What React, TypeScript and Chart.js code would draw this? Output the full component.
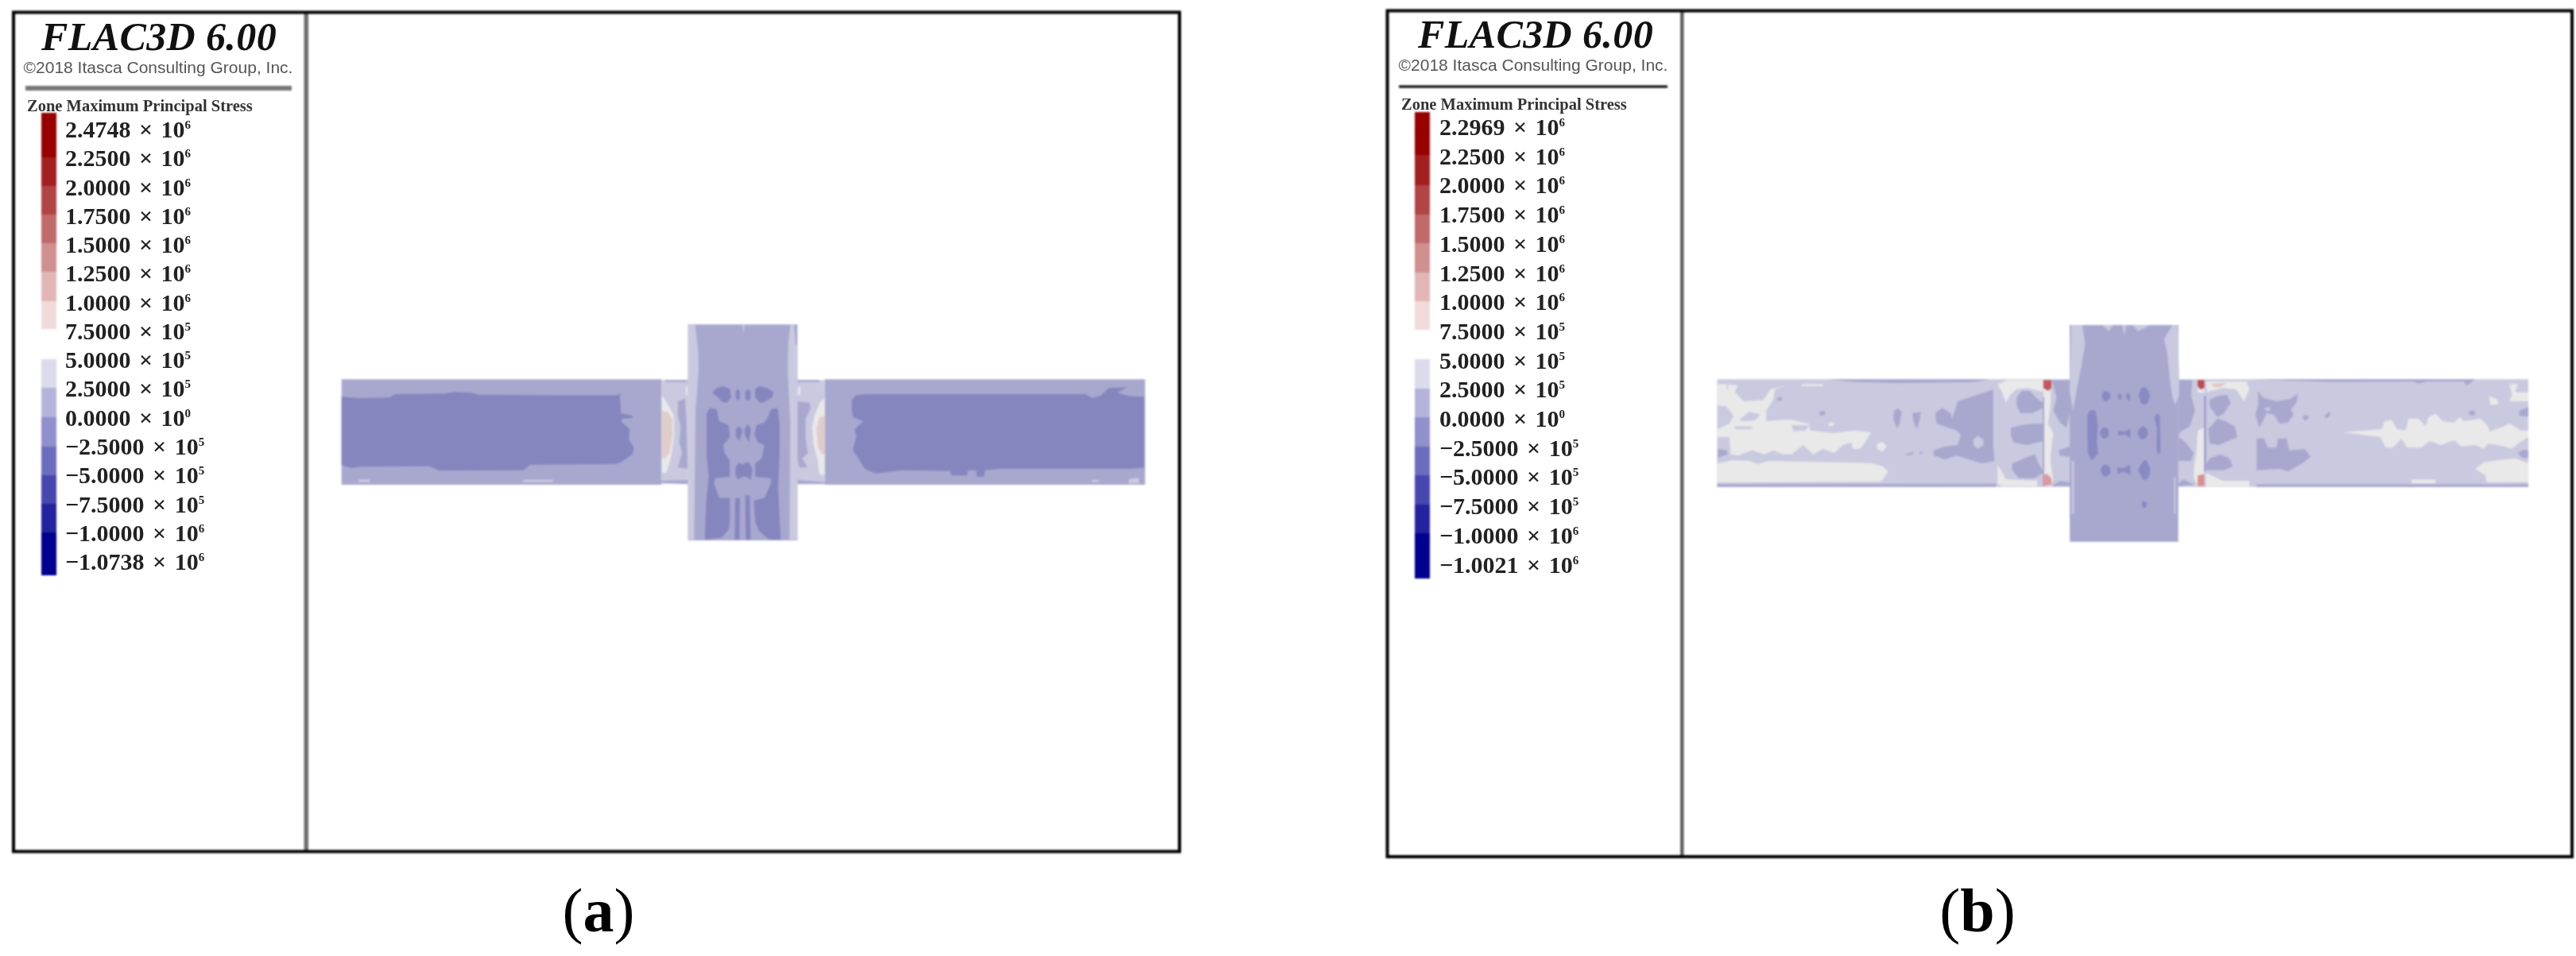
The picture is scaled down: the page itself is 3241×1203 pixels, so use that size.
import React, { useEffect, useRef } from "react";
import { Chart, registerables } from "chart.js";

Chart.register(...registerables);

// ---------- text ----------
const TITLE = "FLAC3D 6.00";
const COPYRIGHT = "©2018 Itasca Consulting Group, Inc.";
const QUANTITY = "Zone Maximum Principal Stress";
const captions = ["a", "b"];
const mantissaA = ["2.4748","2.2500","2.0000","1.7500","1.5000","1.2500","1.0000","7.5000","5.0000","2.5000","0.0000","−2.5000","−5.0000","−7.5000","−1.0000","−1.0738"];
const mantissaB = ["2.2969","2.2500","2.0000","1.7500","1.5000","1.2500","1.0000","7.5000","5.0000","2.5000","0.0000","−2.5000","−5.0000","−7.5000","−1.0000","−1.0021"];
const exponents = ["6","6","6","6","6","6","6","5","5","5","0","5","5","5","6","6"];

// ---------- legend bands (top to bottom) ----------
const bandColours = ["#980000","#A41F1F","#B14444","#C06A6A","#D09090","#E2B6B6","#F0DADA","#FFFFFF","#DBDBEC","#B4B4DB","#9090CD","#6D6DC0","#4747B0","#2323A0","#000091"];
const bandEdgesA = [142,198,234,270,306,342,379,414,452,488,525,562,598,634,670,724];
const bandEdgesB = [141,195,233,270,306,343,379,415,452,489,525,562,598,635,671,728];

// ---------- contour colours ----------
const MID = "#A8A8CF", DARK = "#8686BF", LIGHT = "#C9CADF", PALE = "#E9E9EA", PINK = "#E0CDCB", SPOT = "#8A8AC3";

// ---------- contour outlines, per reading window ----------
type Win = { x: number; y: number; sx: number; sy: number };
const WA_L: Win = { x: 410, y: 390, sx: 2.8, sy: 3 };
const WA_R: Win = { x: 920, y: 390, sx: 2.8, sy: 3 };
const WA_C: Win = { x: 855, y: 400, sx: 3, sy: 3 };
const WB_L: Win = { x: 2140, y: 390, sx: 2.8, sy: 3 };
const WB_R: Win = { x: 2650, y: 390, sx: 2.8, sy: 3 };
const WB_C: Win = { x: 2590, y: 400, sx: 3, sy: 3 };
const WB_JL: Win = { x: 2500, y: 470, sx: 3, sy: 3 };
const WB_JR: Win = { x: 2730, y: 470, sx: 3, sy: 3 };

type Shape = [Win, string, number[]];

const contoursA: Shape[] = [
  [WA_L, MID, [55,262,1183,262,1183,660,55,660]],
  [WA_L, DARK, [55,328,120,333,225,330,245,318,420,316,450,310,510,312,540,320,800,322,1030,322,1035,310,1040,390,1080,400,1082,408,1045,410,1040,420,1070,450,1068,490,1085,520,1080,545,1040,575,1020,582,720,585,695,605,400,607,365,590,120,592,90,598,55,585]],
  [WA_L, LIGHT, [115,640,155,640,155,650,115,650]],
  [WA_L, LIGHT, [695,641,800,641,800,650,695,650]],
  [WA_L, LIGHT, [1183,265,1275,265,1275,652,1183,652]],
  [WA_L, MID, [1195,264,1275,264,1275,272,1195,272]],
  [WA_L, MID, [1183,645,1275,642,1275,658,1183,655]],
  [WA_L, PALE, [1183,320,1195,340,1225,395,1228,470,1215,560,1200,615,1183,615]],
  [WA_L, PINK, [1183,380,1205,385,1220,410,1222,470,1210,540,1195,560,1183,560]],
  [WA_L, PALE, [1268,290,1282,290,1282,320,1268,320]],
  [WA_L, MID, [1240,345,1265,335,1270,410,1275,600,1240,595,1255,540,1245,500,1250,440,1240,400]],
  [WA_R, MID, [330,262,1458,262,1458,660,330,660]],
  [WA_R, DARK, [425,340,440,322,470,318,1250,318,1270,333,1300,325,1330,295,1395,292,1360,312,1400,325,1455,328,1455,596,1400,600,1200,600,950,600,895,605,890,630,865,630,862,605,835,605,830,625,775,625,772,608,600,605,510,618,470,600,445,555,428,530,440,480,435,450,465,420,430,405,425,380]],
  [WA_R, LIGHT, [1270,642,1295,642,1295,650,1270,650]],
  [WA_R, LIGHT, [1400,640,1435,632,1438,655,1400,655]],
  [WA_R, LIGHT, [233,265,330,265,330,652,233,652]],
  [WA_R, MID, [233,264,310,264,310,272,233,272]],
  [WA_R, MID, [233,642,330,650,330,658,233,658]],
  [WA_R, PALE, [330,335,315,345,295,395,285,440,290,510,305,570,310,622,330,622]],
  [WA_R, PINK, [330,400,310,405,300,450,305,520,320,545,330,545]],
  [WA_R, PALE, [233,290,243,290,243,322,233,322]],
  [WA_R, MID, [233,345,275,350,280,370,262,410,262,490,270,540,250,560,268,595,240,595,233,560]],
  [WA_C, MID, [32,25,445,25,445,840,32,840]],
  [WA_C, LIGHT, [32,25,58,25,70,120,72,200,60,350,55,838,32,838]],
  [WA_C, LIGHT, [418,25,432,25,438,100,445,100,445,838,415,838,418,400,408,200,410,100]],
  [WA_C, DARK, [122,282,140,265,165,258,190,268,195,300,180,320,160,318,145,300]],
  [WA_C, DARK, [212,275,220,268,228,280,228,305,218,312,212,300]],
  [WA_C, DARK, [248,280,258,268,268,280,268,305,258,315,248,305]],
  [WA_C, DARK, [285,270,300,258,330,265,355,280,350,300,325,315,305,322,285,300]],
  [WA_C, DARK, [102,360,115,340,140,345,150,390,185,405,190,450,165,480,170,510,190,540,190,600,135,605,130,625,150,680,190,680,190,770,185,800,158,830,95,838,100,700,110,600,102,520]],
  [WA_C, DARK, [330,380,345,345,370,340,378,400,378,500,372,640,382,838,340,838,300,805,285,770,280,690,320,680,345,625,345,605,285,600,285,550,310,530,320,480,295,470,283,440,290,405,320,395]],
  [WA_C, DARK, [212,420,225,408,238,425,225,465,212,445]],
  [WA_C, DARK, [245,420,258,400,270,420,262,470,245,440]],
  [WA_C, DARK, [212,560,225,545,238,555,250,545,262,545,275,570,270,610,250,600,235,600,220,610,210,590]],
  [WA_C, DARK, [210,680,228,680,226,838,208,838]],
  [WA_C, DARK, [248,670,265,670,268,838,250,838]],
  [WA_C, LIGHT, [236,25,244,25,242,60]],
];

const contoursB: Shape[] = [
  [WB_L, LIGHT, [57,262,1300,262,1300,668,57,668]],
  [WB_R, LIGHT, [250,262,1487,262,1487,668,250,668]],
  [WB_L, MID, [440,262,1020,262,960,272,700,276,550,272]],
  [WB_L, MID, [57,658,1040,656,1040,668,57,668]],
  [WB_L, PALE, [57,300,95,300,95,280,130,285,120,310,150,345,220,340,245,300,300,285,260,300,255,340,230,380,230,420,290,415,320,415,380,430,385,455,470,465,540,455,600,462,575,505,560,525,535,525,530,500,500,510,470,540,430,525,395,545,360,510,320,545,290,545,255,530,225,545,180,530,130,550,105,545,100,480,57,480,57,450,100,430,115,400,90,365,57,360]],
  [WB_L, PALE, [57,280,90,280,90,300,57,300]],
  [WB_L, PALE, [57,580,110,568,170,570,200,582,240,570,600,578,640,590,660,610,635,648,57,652]],
  [WB_L, PALE, [620,505,640,498,655,515,640,535,622,525]],
  [WB_L, PALE, [355,280,430,280,430,288,355,288]],
  [WB_L, LIGHT, [135,415,170,385,210,395,190,418,150,420]],
  [WB_L, LIGHT, [120,440,180,440,180,450,120,450]],
  [WB_L, LIGHT, [320,435,380,435,370,455,325,458]],
  [WB_L, PALE, [450,425,470,425,468,438,450,438]],
  [WB_L, MID, [60,525,90,530,95,545,60,558]],
  [WB_L, MID, [270,330,285,330,285,343,270,343]],
  [WB_L, MID, [418,385,435,380,438,395,420,400]],
  [WB_L, MID, [885,410,905,345,1030,300,1030,520,1035,570,990,580,900,550,860,565,820,550,820,530,860,515,905,510,915,470,900,455,830,430,825,390,850,370,880,390]],
  [WB_L, LIGHT, [960,490,975,475,995,490,995,510,975,525,960,510]],
  [WB_L, MID, [680,380,695,372,707,385,700,430,690,448,678,410]],
  [WB_L, MID, [745,390,775,385,770,420,760,450,748,420]],
  [WB_L, MID, [720,545,750,535,745,545,725,550]],
  [WB_L, MID, [770,535,785,540,770,545]],
  [WB_L, PALE, [1045,280,1080,265,1205,265,1205,310,1150,295,1110,300,1090,320,1075,350,1060,310]],
  [WB_L, PALE, [1045,585,1060,610,1075,640,1185,645,1185,665,1060,665,1045,655]],
  [WB_JL, MID, [112,90,130,65,160,65,195,100,212,110,212,130,170,150,125,150,112,120]],
  [WB_JL, MID, [90,205,130,195,170,190,212,190,212,255,150,270,100,260,90,235]],
  [WB_JL, MID, [95,340,140,320,180,305,195,340,212,370,212,375,180,395,120,395,95,365]],
  [WB_JL, PALE, [213,30,240,30,240,110,230,190,250,225,240,300,240,340,250,400,240,425,213,425]],
  [WB_JL, MID, [210,90,216,90,216,425,210,425]],
  [WB_JL, "#C4575A", [213,25,243,25,243,55,230,65,213,55]],
  [WB_JL, "#DD9A9C", [213,385,225,378,243,395,243,420,213,425]],
  [WB_JL, MID, [245,25,312,25,312,150,300,205,275,185,250,140,262,90]],
  [WB_JL, MID, [270,290,312,275,312,315,275,310]],
  [WB_JL, MID, [250,420,275,405,312,410,312,425,250,425]],

  [WB_R, MID, [510,262,1300,262,1270,285,1260,270,1130,270,1100,278,1080,270,800,272]],
  [WB_R, MID, [530,658,1330,658,1330,668,530,668]],
  [WB_R, MID, [1330,660,1487,658,1487,668,1330,668]],
  [WB_R, MID, [535,305,550,330,600,345,650,335,675,315,670,350,650,375,660,395,640,425,610,430,590,395,565,390,540,445,525,395,535,360]],
  [WB_R, LIGHT, [555,370,580,368,575,380,565,380]],
  [WB_R, MID, [530,485,555,485,570,520,600,520,605,485,635,485,645,530,700,525,720,555,690,580,640,610,610,600,530,605]],
  [WB_R, MID, [690,405,702,395,715,405,702,420]],
  [WB_R, MID, [768,400,785,385,790,395,775,410]],
  [WB_R, PALE, [835,462,970,450,980,420,1005,415,1025,450,1055,455,1065,410,1100,410,1125,440,1135,405,1160,392,1185,420,1225,425,1245,405,1260,420,1320,410,1345,440,1350,460,1400,440,1420,428,1460,455,1487,455,1487,480,1450,505,1430,525,1400,515,1380,510,1345,505,1330,525,1300,510,1250,515,1225,492,1180,510,1140,495,1110,520,1060,520,1040,485,1010,520,985,520,965,480]],
  [WB_R, PALE, [1300,600,1330,575,1400,565,1440,560,1487,578,1487,650,1340,650,1335,625]],
  [WB_R, PALE, [1420,280,1450,280,1440,310,1487,312,1487,345,1420,345,1430,320]],
  [WB_R, PALE, [1350,325,1380,340,1378,358,1352,358]],
  [WB_R, PALE, [1075,640,1160,640,1160,655,1075,655]],
  [WB_R, MID, [1455,380,1487,368,1487,402,1455,400]],
  [WB_R, MID, [1450,540,1470,528,1487,530,1487,558,1465,558]],
  [WB_R, MID, [1275,385,1295,378,1300,395,1285,400]],

  [WB_JR, MID, [33,25,85,25,80,80,95,140,75,200,40,220,35,230,33,240,60,260,90,300,80,330,33,330]],
  [WB_JR, MID, [33,415,50,400,95,420,33,425]],
  [WB_JR, PALE, [105,215,130,205,130,425,105,425,90,395,92,345,100,300]],
  [WB_JR, PALE, [105,55,130,55,130,72,105,72]],
  [WB_JR, "#BE4B4E", [105,25,130,25,130,55,115,60,105,45]],
  [WB_JR, "#D98F90", [105,385,130,380,130,425,105,425]],
  [WB_JR, "#8F8FC8", [130,85,136,85,136,370,130,370]],
  [WB_JR, PALE, [136,30,290,30,300,60,280,105,250,60,200,55,140,70]],
  [WB_JR, "#E6C5C3", [155,38,215,35,190,52,165,50]],
  [WB_JR, PALE, [136,375,200,405,300,405,300,428,136,428]],
  [WB_JR, MID, [150,100,180,85,215,80,230,110,205,150,180,165,150,125]],
  [WB_JR, MID, [180,170,210,180,245,200,255,240,220,255,185,270,150,265,145,210]],
  [WB_JR, MID, [136,345,150,320,190,305,225,320,238,350,205,365,140,365]],

  [WB_C, MID, [42,27,452,27,452,845,42,845]],
  [WB_C, LIGHT, [48,28,90,28,100,100,85,190,70,260,55,350,42,280]],
  [WB_C, LIGHT, [430,28,448,28,455,200,455,290,440,330,430,300,420,230,410,130,398,80]],
  [WB_C, LIGHT, [165,28,205,28,190,50]],
  [WB_C, LIGHT, [240,28,255,28,248,65]],
  [WB_C, LIGHT, [280,28,345,28,300,50]],
  [WB_C, LIGHT, [50,540,58,540,58,740,50,740]],
  [WB_C, LIGHT, [436,600,442,600,442,740,436,740]],
  [WB_C, SPOT, [162,295,168,280,178,275,190,280,197,295,190,310,178,317,168,310]],
  [WB_C, SPOT, [222,295,228,285,238,290,238,305,228,310]],
  [WB_C, SPOT, [254,295,262,283,270,290,270,310,262,313]],
  [WB_C, SPOT, [302,292,312,265,325,260,340,275,345,295,338,318,325,330,310,322]],
  [WB_C, SPOT, [155,435,165,415,178,412,190,425,190,445,178,455,165,455]],
  [WB_C, SPOT, [225,425,250,430,270,418,272,455,250,440,225,445]],
  [WB_C, SPOT, [297,435,305,418,320,408,335,420,338,440,328,455,310,460]],
  [WB_C, SPOT, [158,575,165,558,180,553,195,565,197,585,185,598,170,600]],
  [WB_C, SPOT, [222,565,245,568,270,555,272,595,245,580,222,590]],
  [WB_C, SPOT, [300,575,315,545,330,535,345,565,345,590,332,612,318,610]],
  [WB_C, SPOT, [312,700,322,690,335,700,328,718,318,716]],
  [WB_C, SPOT, [108,365,120,348,140,350,148,400,145,470,150,510,125,540,110,510,108,430]],
  [WB_C, SPOT, [362,375,372,360,382,370,385,510,372,512,370,470,372,420]],
];

// ---------- helpers that turn the outlines into library datasets ----------
function polygon(label: string, colour: string, pts: { x: number; y: number }[]) {
  return { label, data: pts, backgroundColor: colour, polyFill: true, showLine: false, pointRadius: 0 };
}
function fromWindow([w, colour, flat]: Shape, i: number, tag: string) {
  const pts: { x: number; y: number }[] = [];
  for (let k = 0; k < flat.length; k += 2) pts.push({ x: w.x + flat[k] / w.sx, y: w.y + flat[k + 1] / w.sy });
  return polygon(`${tag}-${i}`, colour, pts);
}
function bands(edges: number[], x0: number, x1: number, tag: string) {
  return bandColours.map((c, i) =>
    polygon(`${tag}-band-${i}`, c, [
      { x: x0, y: edges[i] }, { x: x1, y: edges[i] }, { x: x1, y: edges[i + 1] }, { x: x0, y: edges[i + 1] },
    ]));
}
function frame(label: string, colour: string, width: number, x0: number, y0: number, x1: number, y1: number) {
  return {
    label, backgroundColor: "transparent", polyStroke: colour, polyWidth: width, polyFill: true,
    showLine: false, pointRadius: 0,
    data: [{ x: x0, y: y0 }, { x: x1, y: y0 }, { x: x1, y: y1 }, { x: x0, y: y1 }],
  };
}
function rule(label: string, colour: string, x0: number, x1: number, y0: number, y1: number) {
  return polygon(label, colour, [{ x: x0, y: y0 }, { x: x1, y: y0 }, { x: x1, y: y1 }, { x: x0, y: y1 }]);
}

const polygonPlugin = {
  id: "polygonPlugin",
  beforeDatasetDraw(chart: any, args: any) {
    const ds = chart.data.datasets[args.index];
    if (!ds.polyFill) return;
    const pts = args.meta.data;
    const ctx = chart.ctx;
    ctx.save();
    ctx.beginPath();
    pts.forEach((p: any, i: number) => (i ? ctx.lineTo(p.x, p.y) : ctx.moveTo(p.x, p.y)));
    ctx.closePath();
    ctx.fillStyle = ds.backgroundColor;
    ctx.fill();
    if (ds.polyStroke) {
      ctx.strokeStyle = ds.polyStroke;
      ctx.lineWidth = ds.polyWidth;
      ctx.stroke();
    }
    ctx.restore();
  },
};

// ---------- layout of text ----------
const panels = [
  { title: [200, 46], copy: [199, 85], zone: [34, 133], labelX: 82, labels: mantissaA, labelY0: 163, labelStep: 36.27, caption: [753, 1146] },
  { title: [1932, 43], copy: [1929, 82], zone: [1763, 131], labelX: 1811, labels: mantissaB, labelY0: 160, labelStep: 36.7, caption: [2488, 1146] },
];

const serif = '"Liberation Serif", "Times New Roman", serif';
const sans = '"Liberation Sans", Arial, sans-serif';
const abs = (x: number, y: number, extra: any = {}) => ({
  position: "absolute", left: x, top: y, whiteSpace: "nowrap", lineHeight: 1, ...extra,
}) as React.CSSProperties;

export default function App() {
  const ref = useRef<HTMLCanvasElement>(null);
  useEffect(() => {
    document.body.style.margin = "0";
    document.body.style.background = "#fff";
    // Chart.js paints the first dataset last, so the painter's order is reversed here.
    const painted = [
      ...contoursA.map((s, i) => fromWindow(s, i, "a")),
      ...contoursB.map((s, i) => fromWindow(s, i, "b")),
      ...bands(bandEdgesA, 52, 71, "a"),
      ...bands(bandEdgesB, 1780, 1799, "b"),
      rule("a-rule", "#777777", 32, 367, 108, 114),
      rule("b-rule", "#000000", 1760, 2098, 107.5, 110.5),
      rule("a-divider", "#6E6E6E", 382.5, 388, 16, 1071),
      rule("b-divider", "#5E5E5E", 2114, 2118.5, 14, 1078),
      frame("a-frame", "#000000", 4, 17, 15.5, 1484, 1071.5),
      frame("b-frame", "#000000", 4, 1745.5, 13.5, 3236, 1078),
    ];
    const chart = new Chart(ref.current!, {
      type: "scatter",
      data: { datasets: painted.reverse() as any },
      options: {
        animation: false,
        responsive: false,
        layout: { padding: 0 },
        events: [],
        plugins: { legend: { display: false }, tooltip: { enabled: false } },
        scales: {
          x: { type: "linear", display: false, min: 0, max: 3241 },
          y: { type: "linear", display: false, min: 0, max: 1203, reverse: true },
        },
      },
      plugins: [polygonPlugin],
    } as any);
    return () => chart.destroy();
  }, []);

  return (
    <div style={{ position: "absolute", left: 0, top: 0, width: 3241, height: 1203, overflow: "hidden", background: "#fff" }}>
      <canvas ref={ref} width={3241} height={1203} style={{ position: "absolute", left: 0, top: 0, display: "block", filter: "blur(0.8px)" }} />
      <div style={{ position: "absolute", inset: 0, filter: "blur(0.6px)" }}>
        {panels.map((p, k) => (
          <React.Fragment key={k}>
            <div style={abs(p.title[0], p.title[1], { transform: "translate(-50%,-50%)", font: `italic bold 50px ${serif}`, letterSpacing: 0.4, color: "#111" })}>{TITLE}</div>
            <div style={abs(p.copy[0], p.copy[1], { transform: "translate(-50%,-50%)", font: `21px ${sans}`, color: "#555" })}>{COPYRIGHT}</div>
            <div style={abs(p.zone[0], p.zone[1], { transform: "translateY(-50%)", font: `bold 20.5px ${serif}`, color: "#333" })}>{QUANTITY}</div>
            {p.labels.map((m, i) => (
              <div key={i} style={abs(p.labelX, p.labelY0 + i * p.labelStep, { transform: "translateY(-50%)", font: `bold 30px ${serif}`, wordSpacing: 3, color: "#222" })}>
                {m} × 10<span style={{ fontSize: 15, position: "relative", top: -11 }}>{exponents[i]}</span>
              </div>
            ))}
            <div style={abs(p.caption[0], p.caption[1], { transform: "translate(-50%,-50%)", font: `78px ${serif}`, color: "#000" })}>
              (<b>{captions[k]}</b>)
            </div>
          </React.Fragment>
        ))}
      </div>
    </div>
  );
}
